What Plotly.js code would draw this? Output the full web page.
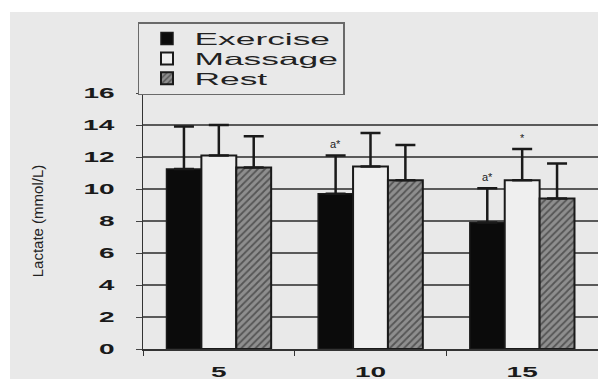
<!DOCTYPE html>
<html>
<head>
<meta charset="utf-8">
<script src="https://cdn.plot.ly/plotly-3.0.1.min.js"></script>
<style>
  html, body { margin: 0; padding: 0; background: #ffffff; }
  #chart { width: 598px; height: 379px; }
  .legendtext { transform-box: fill-box; transform-origin: 0% 50%; transform: scale(2.72, 1.3); }
  g.ytick { transform-box: fill-box; transform-origin: 100% 50%; transform: scaleX(2); }
  g.xtick { transform-box: fill-box; transform-origin: 50% 50%; transform: scaleX(2); }
</style>
</head>
<body>
<div id="chart"></div>
<script>
// Data
const categories = ['5', '10', '15'];
const seriesNames = ['Exercise', 'Massage', 'Rest'];
const exercise = [11.25, 9.7, 7.9];
const massage = [12.1, 11.4, 10.55];
const rest = [11.35, 10.55, 9.4];
const exerciseErr = [2.65, 2.4, 2.15];
const massageErr = [1.9, 2.1, 1.95];
const restErr = [1.95, 2.2, 2.2];
const exerciseMarks = ['', 'a*', 'a*'];
const massageMarks = ['', '', '*'];
const restMarks = ['', '', ''];
const yTicks = [0, 2, 4, 6, 8, 10, 12, 14, 16];

const bargap = 0.31;
const lineCol = '#1a1a1a';
const bg = '#e9e9e9';

function errBar(arr) {
  return { type: 'data', visible: true, symmetric: false, array: arr, arrayminus: arr.map(() => 0),
           thickness: 2.5, width: 10, color: lineCol };
}

const traces = [
  {
    type: 'bar', name: seriesNames[0], x: categories, y: exercise,
    marker: { color: '#0b0b0b', line: { color: lineCol, width: 1.5 } },
    error_y: errBar(exerciseErr)
  },
  {
    type: 'bar', name: seriesNames[1], x: categories, y: massage,
    marker: { color: '#efefef', line: { color: lineCol, width: 2 } },
    error_y: errBar(massageErr)
  },
  {
    type: 'bar', name: seriesNames[2], x: categories, y: rest,
    marker: {
      color: '#8c8c8c',
      line: { color: lineCol, width: 2 },
      pattern: { shape: '/', bgcolor: '#8e8e8e', fgcolor: '#555555', size: 5, solidity: 0.35 }
    },
    error_y: errBar(restErr)
  }
];

// marks above error bars
const plotW = 598 - 143;
const catW = plotW / categories.length;
const barW = catW * (1 - bargap) / 3;
const allVals = [exercise, massage, rest];
const allErr = [exerciseErr, massageErr, restErr];
const allMarks = [exerciseMarks, massageMarks, restMarks];
const annotations = [];
for (let s = 0; s < 3; s++) {
  for (let i = 0; i < categories.length; i++) {
    if (!allMarks[s][i]) continue;
    annotations.push({
      x: i, y: allVals[s][i] + allErr[s][i],
      xref: 'x', yref: 'y', text: allMarks[s][i], showarrow: false,
      xshift: (s - 1) * barW, yshift: 11,
      font: { family: 'Liberation Sans, Arial, sans-serif', size: 11, color: '#222222' }
    });
  }
}

const layout = {
  width: 598, height: 379,
  margin: { l: 143, r: 0, t: 93, b: 30 },
  paper_bgcolor: bg, plot_bgcolor: bg,
  barmode: 'group', bargap: bargap, bargroupgap: 0,
  showlegend: true,
  legend: {
    x: -0.011, y: 1.277, xanchor: 'left', yanchor: 'top',
    bgcolor: bg, bordercolor: '#6a6a6a', borderwidth: 1.5,
    font: { family: 'Liberation Sans, Arial, sans-serif', size: 13, color: '#222' },
    tracegroupgap: 0, itemwidth: 45
  },
  xaxis: {
    type: 'category', range: [-0.5, 2.5],
    showline: true, linecolor: '#333', linewidth: 1.5,
    ticks: 'outside', tickson: 'boundaries', ticklen: 5, tickcolor: '#333',
    ticklabelstandoff: 10,
    showgrid: false, zeroline: false,
    tickfont: { family: 'Liberation Sans, Arial, sans-serif', size: 14, color: '#1a1a1a', weight: 'bold' }
  },
  yaxis: {
    range: [0, 16], tickvals: yTicks,
    showline: true, linecolor: '#333', linewidth: 1.5,
    ticks: 'outside', ticklen: 6, tickcolor: '#444',
    ticklabelstandoff: 18,
    showgrid: true, gridcolor: '#5a5a5a', gridwidth: 1.2, zeroline: false,
    tickfont: { family: 'Liberation Sans, Arial, sans-serif', size: 14, color: '#1a1a1a', weight: 'bold' },
    title: { text: 'Lactate (mmol/L)', standoff: 36,
      font: { family: 'Liberation Sans Narrow, Liberation Sans, Arial, sans-serif', size: 15, color: '#222' } }
  },
  annotations: annotations,
  shapes: [
    { type: 'rect', xref: 'paper', yref: 'paper', x0: -0.4, x1: 1.1, y0: (349 - 12) / 256, y1: 1.5,
      fillcolor: '#ffffff', line: { width: 0 }, layer: 'below' },
    { type: 'rect', xref: 'paper', yref: 'paper', x0: -0.4, x1: (10 - 143) / plotW, y0: -0.2, y1: 1.5,
      fillcolor: '#ffffff', line: { width: 0 }, layer: 'below' }
  ]
};

Plotly.newPlot('chart', traces, layout, { displayModeBar: false, staticPlot: true });
</script>
</body>
</html>
